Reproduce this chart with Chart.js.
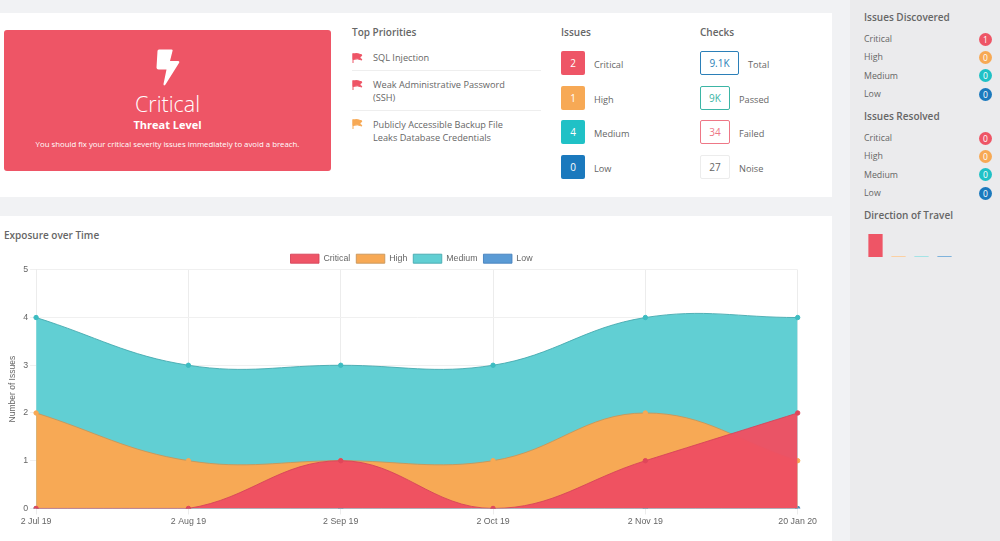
<!DOCTYPE html>
<html>
<head>
<meta charset="utf-8">
<title>Exposure over Time</title>
<script src="https://cdn.jsdelivr.net/npm/chart.js@4"></script>
<style>
html, body { margin: 0; padding: 0; }
body { width: 1000px; height: 541px; position: relative; overflow: hidden; background: #f1f2f4; font-family: "Open Sans", sans-serif; color: #666; }
.abs { position: absolute; white-space: nowrap; }
.card { position: absolute; background: #fff; left: 0; width: 832px; }
#sidebar { position: absolute; left: 850px; top: 0; width: 150px; height: 541px; background: #ebebed; }
#threat { position: absolute; left: 4px; top: 30px; width: 327px; height: 141px; background: #ee5566; border-radius: 3px; color: #fff; text-align: center; }
#threat div { position: absolute; left: 0; width: 100%; }
h4 { position: absolute; margin: 0; font-size: 10px; font-weight: 600; color: #666; white-space: nowrap; line-height: 14px; }
.item { position: absolute; left: 373px; font-size: 9.2px; line-height: 13px; color: #666; white-space: nowrap; }
.rule { position: absolute; left: 352px; width: 189px; height: 1px; background: #eee; }
.sq { position: absolute; left: 561px; width: 24px; height: 24px; border-radius: 2px; color: #fff; font-size: 10px; line-height: 24px; text-align: center; }
.lab { position: absolute; font-size: 9.2px; line-height: 14px; color: #666; white-space: nowrap; }
.chk { position: absolute; left: 700px; height: 24px; box-sizing: border-box; border: 1px solid; border-radius: 2px; font-size: 10px; line-height: 22px; text-align: center; background: #fff; }
.dot { position: absolute; left: 979px; width: 13px; height: 13px; border-radius: 50%; color: #fff; font-size: 8.5px; line-height: 13px; text-align: center; }
#exposure { position: absolute; left: 0; top: 243px; }
#direction { position: absolute; left: 864px; top: 230px; }
</style>
</head>
<body>
<div class="card" style="top:13px;height:184px"></div>
<div class="card" style="top:216px;height:325px"></div>
<div id="sidebar"></div>

<div id="threat">
  <svg style="position:absolute;left:152px;top:19px" width="24" height="37" viewBox="0 0 24 37">
    <path d="M3 0.5 H15.5 Q17 0.5 16.5 2 L14 12 H22 Q24 12 23 14 L9.5 35.5 Q7.5 37.5 7.5 35 L10.5 20.5 H2.5 Q0.5 20.5 0.5 18.5 L1.5 2 Q1.5 0.5 3 0.5 Z" fill="#fff"/>
  </svg>
  <div style="top:59px;font-size:21.5px;font-weight:300;line-height:30px">Critical</div>
  <div style="top:87px;font-size:11px;font-weight:700;line-height:15px">Threat Level</div>
  <div style="top:108px;font-size:7.8px;line-height:13px">You should fix your critical severity issues immediately to avoid a breach.</div>
</div>

<h4 style="left:352px;top:25px">Top Priorities</h4>
<svg class="abs" style="left:352px;top:53px" width="11" height="10" viewBox="0 0 11 10"><path d="M1 0 V10 M1 1 Q5 -0.5 10 2 L8 4.5 L10 7 Q5 5 1 6.5 Z" fill="#ee5566" stroke="#ee5566"/></svg>
<div class="item" style="top:51px">SQL Injection</div>
<div class="rule" style="top:70px"></div>
<svg class="abs" style="left:352px;top:80px" width="11" height="10" viewBox="0 0 11 10"><path d="M1 0 V10 M1 1 Q5 -0.5 10 2 L8 4.5 L10 7 Q5 5 1 6.5 Z" fill="#ee5566" stroke="#ee5566"/></svg>
<div class="item" style="top:78px">Weak Administrative Password<br>(SSH)</div>
<div class="rule" style="top:110px"></div>
<svg class="abs" style="left:352px;top:119px" width="11" height="10" viewBox="0 0 11 10"><path d="M1 0 V10 M1 1 Q5 -0.5 10 2 L8 4.5 L10 7 Q5 5 1 6.5 Z" fill="#f7a955" stroke="#f7a955"/></svg>
<div class="item" style="top:118px">Publicly Accessible Backup File<br>Leaks Database Credentials</div>

<h4 style="left:561px;top:25px">Issues</h4>
<h4 style="left:700px;top:25px">Checks</h4>
<div id="issues"></div>
<div id="checks"></div>

<h4 style="left:864px;top:10px">Issues Discovered</h4>
<h4 style="left:864px;top:109px">Issues Resolved</h4>
<h4 style="left:864px;top:208px">Direction of Travel</h4>
<div id="side"></div>

<canvas id="exposure" width="819" height="298"></canvas>
<h4 style="left:4px;top:228px">Exposure over Time</h4>
<canvas id="direction" width="92" height="30"></canvas>

<script>
const dates = ['2 Jul 19', '2 Aug 19', '2 Sep 19', '2 Oct 19', '2 Nov 19', '20 Jan 20'];
const critical = [0, 0, 1, 0, 1, 2];
const high = [2, 1, 1, 1, 2, 1];
const medium = [4, 3, 3, 3, 4, 4];
const low = [0, 0, 0, 0, 0, 0];

const severities = ['Critical', 'High', 'Medium', 'Low'];
const severityColors = ['#ee5566', '#f7a955', '#20c1c6', '#1b79bd'];
const issueCounts = [2, 1, 4, 0];
const checkNames = ['Total', 'Passed', 'Failed', 'Noise'];
const checkCounts = ['9.1K', '9K', '34', '27'];
const checkColors = ['#2b7fb8', '#3cb5a5', '#ee7786', '#ececec'];
const checkWidths = [39, 30, 30, 30];
const discovered = [1, 0, 0, 0];
const resolved = [0, 0, 0, 0];
const travel = [1, 0, 0, 0];

const issues = document.getElementById('issues');
severities.forEach((name, i) => {
    const top = 51 + i * 34.7;
    issues.innerHTML += `<div class="sq" style="top:${top}px;background:${severityColors[i]}">${issueCounts[i]}</div>`
        + `<div class="lab" style="left:594px;top:${top + 7}px">${name}</div>`;
});

const checks = document.getElementById('checks');
checkNames.forEach((name, i) => {
    const top = 51 + i * 34.7;
    const textColor = i === 3 ? '#666' : checkColors[i];
    checks.innerHTML += `<div class="chk" style="top:${top}px;width:${checkWidths[i]}px;border-color:${checkColors[i]};color:${textColor}">${checkCounts[i]}</div>`
        + `<div class="lab" style="left:${700 + checkWidths[i] + 9}px;top:${top + 7}px">${name}</div>`;
});

const side = document.getElementById('side');
function sideList(values, firstTop) {
    severities.forEach((name, i) => {
        const top = firstTop + i * 18.4;
        side.innerHTML += `<div class="lab" style="left:864px;top:${top - 1}px;font-size:8.8px">${name}</div>`
            + `<div class="dot" style="top:${top - 0.5}px;background:${severityColors[i]}">${values[i]}</div>`;
    });
}
sideList(discovered, 33);
sideList(resolved, 132);

// pull the plot up under the legend, the original has a tighter gap there
const tightLegend = {
    id: 'tightLegend',
    beforeInit(chart) {
        const fit = chart.legend.fit;
        chart.legend.fit = function () {
            fit.call(this);
            this.height -= 3.4;
        };
    }
};

new Chart(document.getElementById('exposure'), {
    type: 'line',
    data: {
        labels: dates,
        datasets: [
            { label: 'Critical', data: critical, borderColor: 'rgba(214,69,90,0.9)', backgroundColor: 'rgba(238,80,98,0.97)', pointBackgroundColor: '#e0465a', pointBorderColor: '#e0465a' },
            { label: 'High', data: high, borderColor: 'rgba(200,150,90,0.9)', backgroundColor: 'rgba(247,169,85,1)', pointBackgroundColor: '#f7a955', pointBorderColor: '#f7a955' },
            { label: 'Medium', data: medium, borderColor: 'rgba(70,170,175,0.9)', backgroundColor: 'rgba(97,207,211,1)', pointBackgroundColor: '#3dbcc1', pointBorderColor: '#3dbcc1' },
            { label: 'Low', data: low, borderColor: 'rgba(70,130,190,0.9)', backgroundColor: 'rgba(91,155,213,1)', pointBackgroundColor: '#4f90b8', pointBorderColor: '#4f90b8' }
        ]
    },
    plugins: [tightLegend],
    options: {
        responsive: false,
        animation: false,
        devicePixelRatio: 1,
        layout: { padding: { left: 5, right: 1, top: 5.2, bottom: 12 } },
        elements: {
            line: { tension: 0.4, fill: 'origin', borderWidth: 1 },
            point: { radius: 2.2, borderWidth: 1 }
        },
        plugins: {
            tooltip: { enabled: false },
            legend: {
                position: 'top',
                labels: { boxWidth: 28.5, boxHeight: 9, padding: 6, color: '#666', font: { family: 'Liberation Sans', size: 8.8 } }
            }
        },
        scales: {
            x: {
                offset: false,
                grid: { color: '#ececec', tickLength: 6 },
                border: { color: '#ececec' },
                ticks: { color: '#666', maxRotation: 0, padding: 2, font: { family: 'Liberation Sans', size: 8.8 } }
            },
            y: {
                min: 0,
                max: 5,
                grid: { color: '#f0f0f0', tickLength: 6 },
                border: { color: '#ececec' },
                title: { display: true, text: 'Number of Issues', color: '#666', padding: 3, font: { family: 'Liberation Sans', size: 8.5 } },
                ticks: { color: '#666', stepSize: 1, padding: 2, font: { family: 'Liberation Sans', size: 8.8 } }
            }
        }
    }
});

new Chart(document.getElementById('direction'), {
    type: 'bar',
    data: {
        labels: severities,
        datasets: [{
            data: travel,
            backgroundColor: ['#ee5566', '#fbd0a3', '#a4e3e6', '#7fb3dc'],
            minBarLength: 1,
            barPercentage: 0.62,
            categoryPercentage: 1
        }]
    },
    options: {
        responsive: false,
        animation: false,
        devicePixelRatio: 1,
        layout: { padding: { top: 4, bottom: 3 } },
        plugins: { legend: { display: false }, tooltip: { enabled: false } },
        scales: {
            x: { display: false },
            y: { display: false, min: 0, max: 1 }
        }
    }
});
</script>
</body>
</html>
